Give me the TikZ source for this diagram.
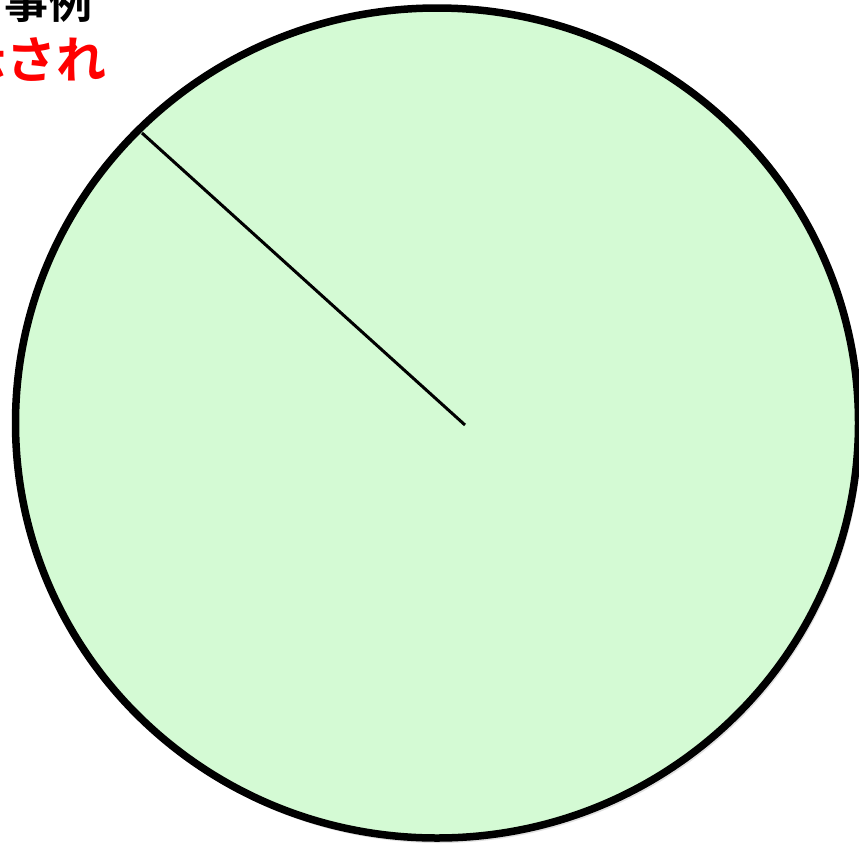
\documentclass[tikz,border=0pt]{standalone}
\usepackage{fontspec}
\usetikzlibrary{shapes.geometric}
\newfontfamily\jpfont{Noto Sans CJK JP}[BoldFont={Noto Sans CJK JP Bold}]
\definecolor{pie}{HTML}{D4FAD4}
\definecolor{redtxt}{HTML}{FF0000}
\begin{document}
\begin{tikzpicture}[x=1pt,y=-1pt,
  rim/.style={draw=black,line width=7.5pt,fill=pie},
  spoke/.style={draw=black,line width=3pt},
  lbl/.style={inner sep=0pt,font=\jpfont\bfseries}]
\useasboundingbox (0,0) rectangle (859,847);
\clip (0,0) rectangle (859,847);
\fill[black!12] (439,427) ellipse [x radius=423, y radius=416];
\node[rim,ellipse,minimum width=843pt,minimum height=830pt,inner sep=0pt,outer sep=0pt] (c) at (437,423) {};
\coordinate (rimpt) at (142,133);
\coordinate (hub) at (465,425);
\draw[spoke] (rimpt) -- (hub);
\node[lbl,anchor=base east,text=black,font=\jpfont\bfseries\fontsize{44}{44}\selectfont] (t1) at (93,18) {事例};
\node[lbl,anchor=base east,text=redtxt,font=\jpfont\bfseries\fontsize{50}{50}\selectfont] (t2) at (107,78) {示され};
\end{tikzpicture}
\end{document}
